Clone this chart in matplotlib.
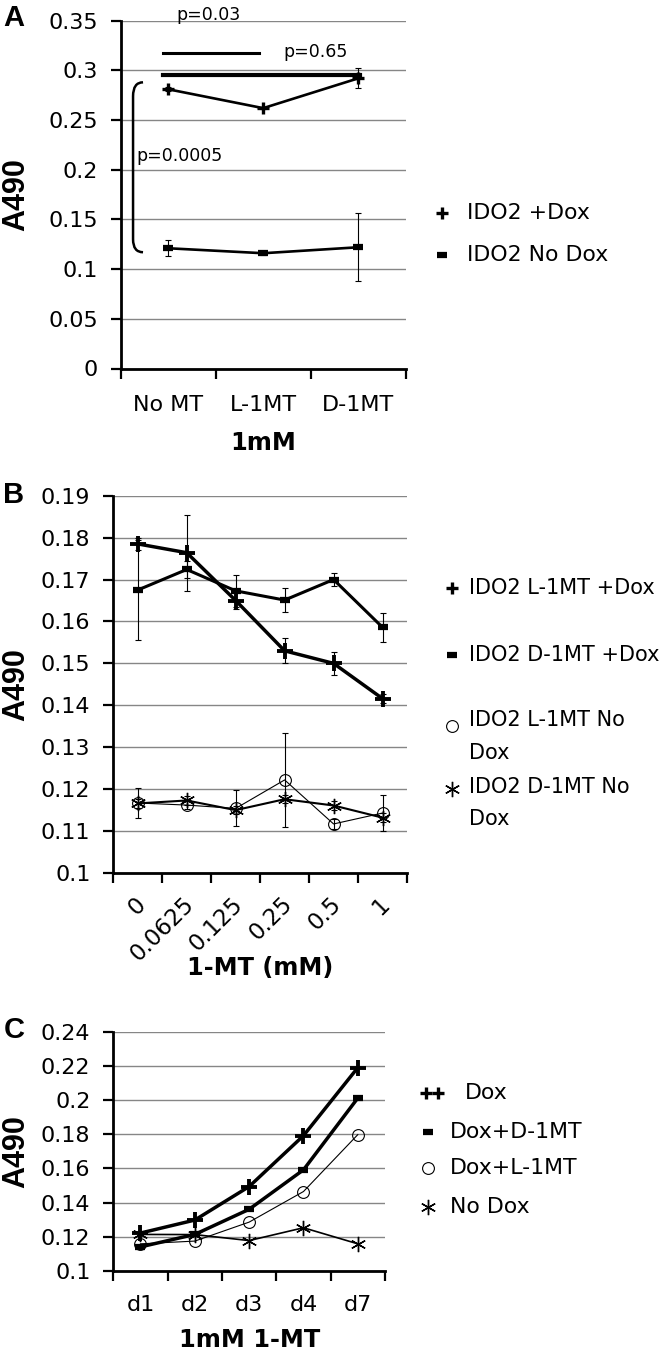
import numpy as np
import matplotlib
matplotlib.use('Agg')
import matplotlib.pyplot as plt
import matplotlib.transforms as mtransforms
from matplotlib.lines import Line2D
from matplotlib.path import Path
from matplotlib.patches import PathPatch
from matplotlib.ticker import FuncFormatter, MultipleLocator

plt.rcParams['font.family'] = ['DejaVu Sans']

# --- data ---
a_cats = ['No MT', 'L-1MT', 'D-1MT']
a_dox = [0.281, 0.262, 0.292]
a_dox_err = [0.002, 0.001, 0.010]
a_nodox = [0.121, 0.116, 0.122]
a_nodox_err = [0.008, 0.002, 0.034]

b_cats = ['0', '0.0625', '0.125', '0.25', '0.5', '1']
b_l_dox = [0.1785, 0.1764, 0.165, 0.153, 0.150, 0.1416]
b_l_dox_err = [0.0014, 0.0091, 0.002, 0.003, 0.0028, 0.001]
b_d_dox = [0.1675, 0.1724, 0.1673, 0.1651, 0.1700, 0.1586]
b_d_dox_err = [0.012, 0.002, 0.0038, 0.0029, 0.0015, 0.0035]
b_l_nodox = [0.1167, 0.1162, 0.1154, 0.1222, 0.1117, 0.1143]
b_l_nodox_err = [0.0035, 0.001, 0.0043, 0.0113, 0.0012, 0.0044]
b_d_nodox = [0.1166, 0.1173, 0.1150, 0.1176, 0.1161, 0.1132]
b_d_nodox_err = [0.001, 0.001, 0.001, 0.001, 0.001, 0.001]

c_cats = ['d1', 'd2', 'd3', 'd4', 'd7']
c_dox = [0.1222, 0.1298, 0.1494, 0.1792, 0.219]
c_dox_d = [0.1141, 0.1214, 0.1361, 0.1592, 0.2012]
c_dox_l = [0.1159, 0.1175, 0.1286, 0.1465, 0.1798]
c_nodox = [0.1214, 0.1213, 0.1178, 0.1253, 0.1159]

W, H = 661, 1354
fig = plt.figure(figsize=(W / 100, H / 100), dpi=100)
px = mtransforms.Affine2D().scale(1 / W, -1 / H).translate(0, 1) + fig.transFigure

FS = 16
BOLD = dict(family=['Liberation Sans', 'DejaVu Sans'], fontweight='bold')

plus = dict(marker='+', markersize=9, markeredgewidth=2.4)
dash = dict(marker='_', markersize=7, markeredgewidth=4.5)
circ = dict(marker='o', markersize=8.5, markerfacecolor='none', markeredgewidth=0.8)
star = dict(marker=(6, 2, 0), markersize=11, markeredgewidth=1.0)


def make_axes(l, t, r, b, cats, ymin, ymax, step, xlabel, xlab_y, ylab_x):
    ax = fig.add_axes([l / W, 1 - b / H, (r - l) / W, (b - t) / H])
    n = len(cats)
    ax.set_xlim(-0.5, n - 0.5)
    ax.set_ylim(ymin, ymax)
    ax.yaxis.set_major_locator(MultipleLocator(step))
    ax.yaxis.set_major_formatter(FuncFormatter(lambda v, p: '%g' % round(v, 4)))
    ax.grid(axis='y', color='#868686', lw=1.0)
    ax.set_axisbelow(True)
    for s in ['top', 'right']:
        ax.spines[s].set_visible(False)
    for s in ['left', 'bottom']:
        ax.spines[s].set_linewidth(2.0)
    ax.set_xticks(np.arange(n + 1) - 0.5)
    ax.set_xticklabels([])
    ax.set_xticks(np.arange(n), minor=True)
    ax.tick_params(axis='y', direction='out', length=7.5, width=1.6, pad=9, labelsize=FS)
    ax.tick_params(axis='x', which='major', direction='out', length=7, width=1.6)
    ax.set_xlabel(xlabel, fontsize=17.3, fontweight='bold')
    ax.xaxis.set_label_coords(0.5, (b - xlab_y) / (b - t))
    ax.xaxis.label.set_va('center')
    ax.set_ylabel('A490', fontsize=22, **BOLD)
    ax.yaxis.set_label_coords((ylab_x - l) / (r - l), 0.5)
    ax.yaxis.label.set_va('center')
    return ax


def series(ax, y, err, lw, mk, z=3):
    x = np.arange(len(y))
    if err is not None:
        ax.errorbar(x, y, yerr=err, fmt='none', ecolor='black', elinewidth=0.8,
                    capsize=2.5, capthick=0.8, zorder=z)
    ax.plot(x, y, color='black', lw=lw, zorder=z + 1, clip_on=False, **mk)


def legend(entries, xm, xt, ys, fs):
    for (mk, labels, my), y in zip(entries, ys):
        for k, lab in enumerate(labels):
            fig.text(xt, y + k * 32.7, lab, transform=px, va='center', fontsize=fs)
        for dx in mk.get('dx', [0]):
            m = {k: v for k, v in mk.items() if k != 'dx'}
            fig.add_artist(Line2D([xm + dx], [y + my], transform=px, color='black',
                                  ls='none', **m))


# --- panel A ---
axA = make_axes(120.7, 20.7, 405.7, 368.5, a_cats, 0, 0.35, 0.05, '1mM', 443, 16)
axA.set_xticklabels(a_cats, minor=True)
axA.tick_params(axis='x', which='minor', length=0, pad=19, labelsize=FS)
series(axA, a_dox, a_dox_err, 1.9, plus)
series(axA, a_nodox, a_nodox_err, 1.9, dash)

axA.plot([-0.055, 0.956], [0.317, 0.317], color='black', lw=2.2)
axA.plot([-0.055, 2.02], [0.2953, 0.2953], color='black', lw=3.0)
verts = [(-0.265, 0.288), (-0.37, 0.288), (-0.37, 0.274), (-0.37, 0.130),
         (-0.37, 0.117), (-0.265, 0.117)]
codes = [Path.MOVETO, Path.CURVE3, Path.CURVE3, Path.LINETO, Path.CURVE3, Path.CURVE3]
axA.add_patch(PathPatch(Path(verts, codes), fill=False, lw=1.8, color='black'))
pfont = dict(fontsize=12.5, va='center', clip_on=False)
axA.text(0.082, 0.3556, 'p=0.03', **pfont)
axA.text(1.208, 0.3184, 'p=0.65', **pfont)
axA.text(-0.339, 0.2138, 'p=0.0005', **pfont)

legend([(plus, ['IDO2 +Dox'], 0), (dash, ['IDO2 No Dox'], 0)], 441.7, 466.7,
       [213.3, 255], 15.8)

# --- panel B ---
axB = make_axes(113.3, 495.7, 407, 873, b_cats, 0.1, 0.19, 0.01, '1-MT (mM)', 968, 16)
axB.set_xticklabels(b_cats, minor=True, rotation=45, ha='right', va='center',
                    rotation_mode='anchor')
axB.tick_params(axis='x', which='minor', length=0, pad=20, labelsize=16.5)
shift = mtransforms.ScaledTranslation(4 / 100, 0, fig.dpi_scale_trans)
for t in axB.get_xticklabels(minor=True):
    t.set_transform(t.get_transform() + shift)
plusB = dict(plus, markersize=11, markeredgewidth=2.8)
series(axB, b_l_dox, b_l_dox_err, 2.5, plusB)
series(axB, b_d_dox, b_d_dox_err, 2.2, dash)
series(axB, b_l_nodox, b_l_nodox_err, 0.8, circ)
series(axB, b_d_nodox, b_d_nodox_err, 1.5, star)

legend([(plus, ['IDO2 L-1MT +Dox'], 0), (dash, ['IDO2 D-1MT +Dox'], 0),
        (circ, ['IDO2 L-1MT No', 'Dox'], 6), (star, ['IDO2 D-1MT No', 'Dox'], 2)],
       451.6, 469.3, [588, 655, 720, 786.7], 15)

# --- panel C ---
axC = make_axes(113.3, 1031.7, 385, 1271, c_cats, 0.1, 0.24, 0.02, '1mM 1-MT', 1340, 16)
axC.set_xticklabels(c_cats, minor=True)
axC.tick_params(axis='x', which='minor', length=0, pad=17, labelsize=FS)
plusC = dict(plus, markersize=11, markeredgewidth=2.8)
series(axC, c_dox, None, 2.5, plusC)
series(axC, c_dox_d, None, 2.5, dash)
series(axC, c_dox_l, None, 0.8, circ)
series(axC, c_nodox, None, 1.2, star)

plus2 = dict(plus, dx=[-2.5, 9.5])
legend([(plus2, [''], 0), (dash, ['Dox+D-1MT'], 0), (circ, ['Dox+L-1MT'], 0),
        (star, ['No Dox'], 0)], 428, 450, [1093.3, 1131.7, 1168.3, 1206.7], 15.8)
fig.text(465, 1093.3, 'Dox', transform=px, va='center', fontsize=15.8)

for lab, (x, y) in zip(['A', 'B', 'C'], [(14, 18), (13.5, 495), (14, 1030)]):
    fig.text(x, y, lab, transform=px, ha='center', va='center', fontsize=21, **BOLD)

fig.savefig('out.png', dpi=100)
